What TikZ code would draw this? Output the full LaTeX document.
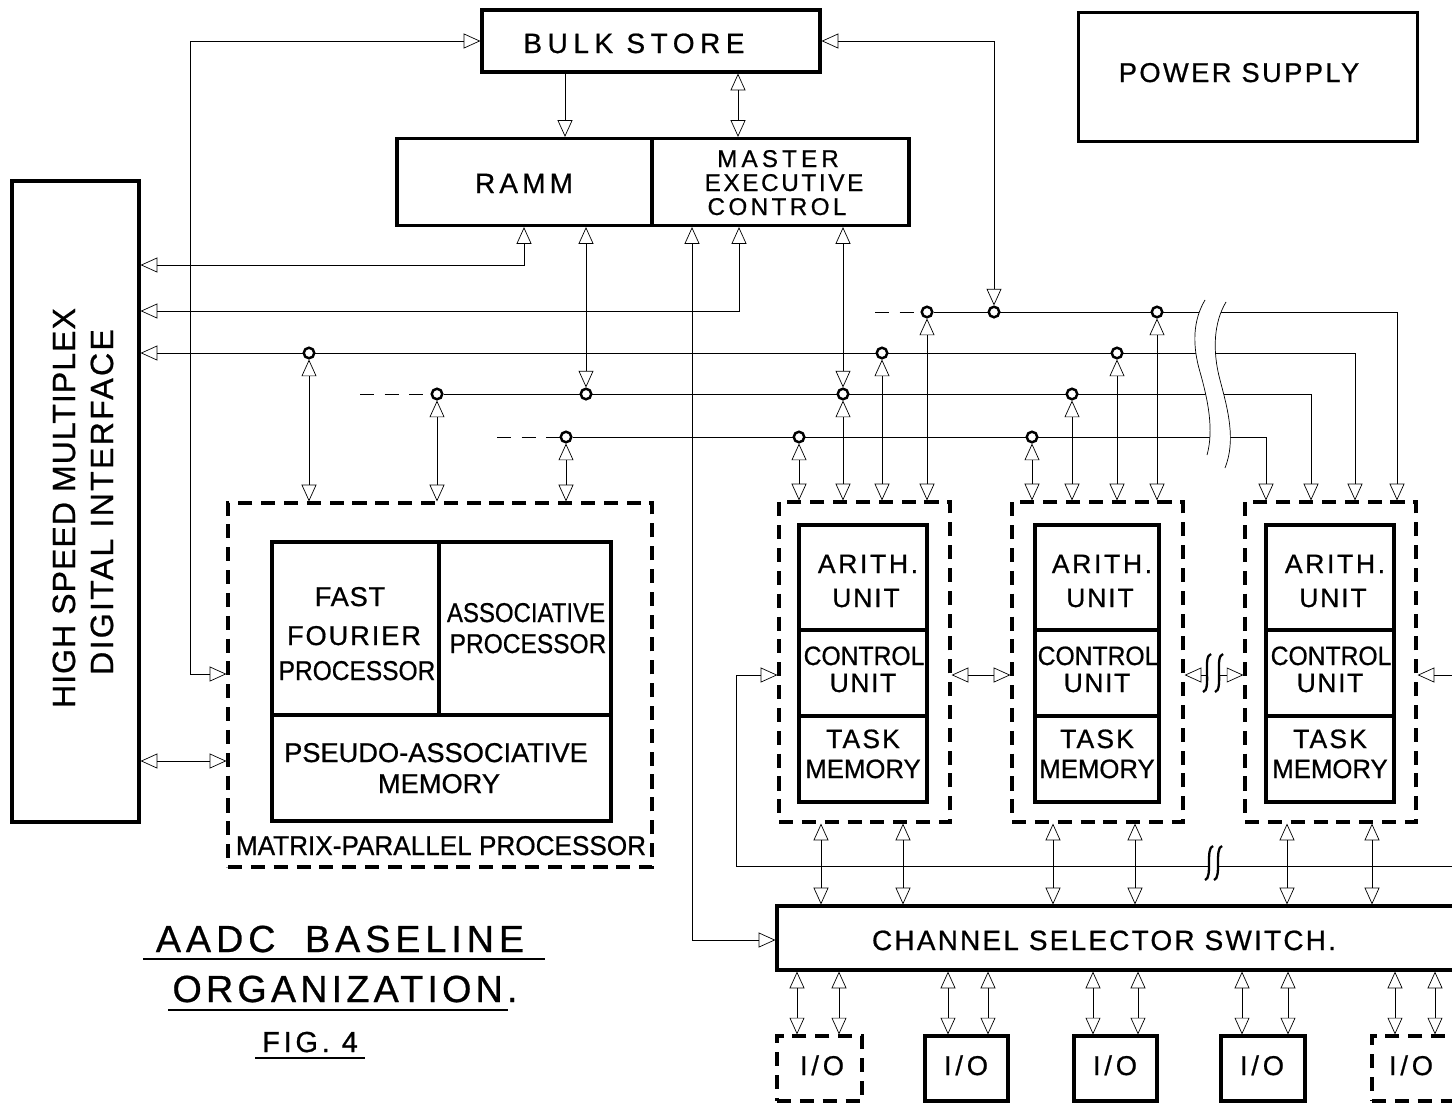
\documentclass[tikz,border=0pt]{standalone}
\usepackage{fontspec}
\setmainfont{Liberation Sans}
\usetikzlibrary{arrows.meta}
\pgfdeclarelayer{fg}
\pgfsetlayers{main,fg}
\newcommand\lsp[3]{{\fontsize{#1}{#1}\selectfont\addfontfeature{LetterSpace=#2,FakeBold=0.7}#3}}
\newcommand\sqz[2]{\scalebox{#1}[1]{#2}}
\begin{document}
\begin{tikzpicture}[x=0.02cm,y=-0.02cm,line width=1.6pt,
 >={Triangle[open,length=9.5pt,width=8.5pt]},
 box/.style={draw,rectangle,inner sep=0pt,line width=1.8pt},
 dbox/.style={box,dash pattern=on 8pt off 5pt},
 wh/.style args={#1x#2}{minimum width=#1*0.02cm,minimum height=#2*0.02cm},
 txt/.style={anchor=base,inner sep=0pt},
 dot/.style={circle,draw,fill=white,inner sep=0pt,minimum size=6pt,line width=1.4pt},
 dsh/.style={dash pattern=on 8pt off 6pt}]
\useasboundingbox (0,0) rectangle (1452,1103);

% ---------- boxes ----------
\node[box,wh=338x62] (bulk) at (651,41) {};
\node[box,wh=339x129] (power) at (1248,77) {};
\node[box,wh=255x87] (ramm) at (524.5,182) {};
\node[box,wh=257x87] (mec) at (780.5,182) {};
\node[box,wh=127x641] (hs) at (75.5,501.5) {};
\node[dbox,wh=424x364] (mpp) at (440,685) {};
\node[box,wh=339x279] (mppin) at (441.5,681.5) {};
\draw[line width=1.8pt] (mppin.west |- 0,715) -- (mppin.east |- 0,715);
\draw[line width=1.8pt] (mppin.north -| 439,0) -- (439,715);

\foreach \n/\cx/\ci/\wi in {1/864.5/863/128,2/1097.5/1097/124,3/1330.5/1330/128}{
  \node[dbox,wh=171x320] (pe\n) at (\cx,662) {};
  \node[box,minimum width=\wi*0.02cm,minimum height=277*0.02cm] (pi\n) at (\ci,663.5) {};
  \draw[line width=1.8pt] (pi\n.west |- 0,630) -- (pi\n.east |- 0,630);
  \draw[line width=1.8pt] (pi\n.west |- 0,716) -- (pi\n.east |- 0,716);
  \node[txt] (ta\n) at (\ci+5,573) {\lsp{15.1}{10}{ARITH.}};
  \node[txt] (tu\n) at (\ci+3,607) {\lsp{15.1}{7}{UNIT}};
  \node[txt] (tc\n) at (\ci+1,665) {\sqz{0.93}{\lsp{15.1}{0}{CONTROL}}};
  \node[txt] (tv\n) at (\ci,692) {\lsp{15.1}{6}{UNIT}};
  \node[txt] (tt\n) at (\ci,748) {\lsp{15.1}{8}{TASK}};
  \node[txt] (tm\n) at (\ci,778) {\sqz{0.97}{\lsp{15.1}{0}{MEMORY}}};
}

\node[box,wh=685x64] (css) at (1119.5,938) {};
\node[dbox,wh=85x65] (io1) at (819.5,1068.5) {};
\node[box,wh=83x65] (io2) at (966.5,1068.5) {};
\node[box,wh=83x65] (io3) at (1115.5,1068.5) {};
\node[box,wh=84x65] (io4) at (1263,1068.5) {};
\node[dbox,wh=84x65] (io5) at (1414,1068.5) {};

% ---------- texts ----------
\node[txt] (tbulk) at (634,53) {\lsp{15.9}{20}{BULK STORE}};
\node[txt] (tpow) at (1239,82) {\lsp{15.5}{9}{POWER SUPPLY}};
\node[txt] (tramm) at (524,193) {\lsp{15.9}{15}{RAMM}};
\node[txt] (tme1) at (778,167) {\lsp{13.8}{17}{MASTER}};
\node[txt] (tme2) at (784,191) {\lsp{13.8}{11}{EXECUTIVE}};
\node[txt] (tme3) at (777,215) {\lsp{13.8}{14}{CONTROL}};
\node[txt,rotate=90] (hs1) at (75,508) {\lsp{18.3}{3}{HIGH SPEED MULTIPLEX}};
\node[txt,rotate=90] (hs2) at (113,502) {\lsp{18.3}{7}{DIGITAL INTERFACE}};
\node[txt] (f1) at (350,606) {\lsp{15.5}{3}{FAST}};
\node[txt] (f2) at (354,645) {\lsp{15.5}{7}{FOURIER}};
\node[txt] (f3) at (357,680) {\sqz{0.9}{\lsp{15.5}{0}{PROCESSOR}}};
\node[txt] (as1) at (526,622) {\sqz{0.88}{\lsp{15.5}{0}{ASSOCIATIVE}}};
\node[txt] (as2) at (528,653) {\sqz{0.9}{\lsp{15.5}{0}{PROCESSOR}}};
\node[txt] (ps1) at (436,762) {\lsp{15.5}{0}{PSEUDO-ASSOCIATIVE}};
\node[txt] (ps2) at (439,793) {\lsp{15.5}{0}{MEMORY}};
\node[txt] (mlab) at (441,855) {\sqz{0.96}{\lsp{15.5}{0}{MATRIX-PARALLEL PROCESSOR}}};
\node[txt] (tcss) at (1104,950) {\lsp{15.9}{8}{CHANNEL SELECTOR SWITCH.}};
\foreach \i/\x in {1/822,2/966,3/1115,4/1262,5/1411}
  \node[txt] (tio\i) at (\x,1075) {\lsp{15.5}{14}{I/O}};
\node[txt] (t1) at (340,952) {\lsp{21.5}{13}{AADC\hspace{8pt} BASELINE}};
\node[txt] (t2) at (345,1002) {\lsp{21.5}{11}{ORGANIZATION.}};
\node[txt] (t3) at (310,1052) {\lsp{16.5}{13}{FIG. 4}};
\draw[line width=1.5pt] (143,959) -- (545,959);
\draw[line width=1.5pt] (168,1010) -- (508,1010);
\draw[line width=1.5pt] (255,1058) -- (365,1058);

% ---------- junction circles ----------
\begin{pgfonlayer}{fg}
\node[dot] (m1) at (309,353) {};
\node[dot] (m2) at (437,394) {};
\node[dot] (m3) at (566,437) {};
\node[dot] (rb) at (586,394) {};
\node[dot] (eb) at (843,394) {};
\node[dot] (bb) at (994,312) {};
\node[dot] (p1a) at (799,437) {};
\node[dot] (p1c) at (882,353) {};
\node[dot] (p1d) at (927,312) {};
\node[dot] (p2a) at (1032,437) {};
\node[dot] (p2b) at (1072,394) {};
\node[dot] (p2c) at (1117,353) {};
\node[dot] (p2d) at (1157,312) {};
\end{pgfonlayer}

% ---------- connectors ----------
\draw[<->] (mpp.west |- 0,674) -- (190,674) |- (bulk.west);
\draw[<->] (bulk.east) -| (bb);
\draw[->] (bulk.south -| 565,0) -- (ramm.north -| 565,0);
\draw[<->] (bulk.south -| 738,0) -- (mec.north -| 738,0);
\draw[<->] (ramm.south -| 524,0) |- (hs.east |- 0,265);
\draw[<->] (mec.south -| 739,0) |- (hs.east |- 0,311);
\draw[<->] (ramm.south -| 586,0) -- (rb);
\draw[<->] (mec.south -| 692,0) |- (css.west |- 0,940);
\draw[<->] (mec.south -| 843,0) -- (eb);

\draw[<->] (hs.east |- 0,353) -| (pe3.north -| 1355,0);
\coordinate (d312) at (875,312);
\coordinate (d394) at (360,394);
\coordinate (d437) at (497,437);
\draw[dsh] (d312) -- (p1d);
\draw[->] (p1d) -| (pe3.north -| 1397,0);
\draw[dsh] (d394) -- (m2);
\draw[->] (m2) -| (pe3.north -| 1311,0);
\draw[dsh] (d437) -- (m3);
\draw[->] (m3) -| (pe3.north -| 1266,0);

\foreach \c/\x in {m1/309,m2/437,m3/566} \draw[<->] (\c) -- (mpp.north -| \x,0);
\foreach \c/\x in {p1a/799,eb/843,p1c/882,p1d/927} \draw[<->] (\c) -- (pe1.north -| \x,0);
\foreach \c/\x in {p2a/1032,p2b/1072,p2c/1117,p2d/1157} \draw[<->] (\c) -- (pe2.north -| \x,0);

\draw[<->] (hs.east |- 0,761) -- (mpp.west |- 0,761);

\draw[<->] (pe1.east |- 0,675) -- (pe2.west |- 0,675);
\draw[<->] (pe2.east |- 0,675) -- (pe3.west |- 0,675);
\coordinate (rr) at (1462,675);
\coordinate (rl) at (1462,866);
\draw[->] (rr) -- (pe3.east |- 0,675);
\draw[->] (rl) -| (736,675) -- (pe1.west |- 0,675);

\foreach \p/\x in {pe1/821,pe1/903,pe2/1053,pe2/1135,pe3/1287,pe3/1372}
  \draw[<->] (\p.south -| \x,0) -- (css.north -| \x,0);
\foreach \i/\x in {io1/797,io1/839,io2/948,io2/988,io3/1093,io3/1138,io4/1242,io4/1288,io5/1395,io5/1435}
  \draw[<->] (css.south -| \x,0) -- (\i.north -| \x,0);

% ---------- break marks ----------
\begin{pgfonlayer}{fg}
\fill[white] (1205,300) .. controls (1193,320) and (1192,345) .. (1200,372)
  .. controls (1208,400) and (1214,430) .. (1207,455) -- (1225,468)
  .. controls (1236,440) and (1228,410) .. (1220,380)
  .. controls (1212,350) and (1214,322) .. (1226,302) -- cycle;
\draw (1205,300) .. controls (1193,320) and (1192,345) .. (1200,372)
  .. controls (1208,400) and (1214,430) .. (1207,455);
\draw (1226,302) .. controls (1214,322) and (1212,350) .. (1220,380)
  .. controls (1228,410) and (1236,440) .. (1225,468);
\fill[white] (1208,668) rectangle (1220,682);
\draw[line width=1.3pt] (1203,692) .. controls (1212,690) and (1202,656) .. (1211,654);
\draw[line width=1.3pt] (1215,692) .. controls (1224,690) and (1214,656) .. (1223,654);
\fill[white] (1210,860) rectangle (1219,872);
\draw[line width=1.3pt] (1205,880) .. controls (1213,878) and (1205,848) .. (1213,846);
\draw[line width=1.3pt] (1214,880) .. controls (1222,878) and (1214,848) .. (1222,846);
\end{pgfonlayer}
\end{tikzpicture}
\end{document}
